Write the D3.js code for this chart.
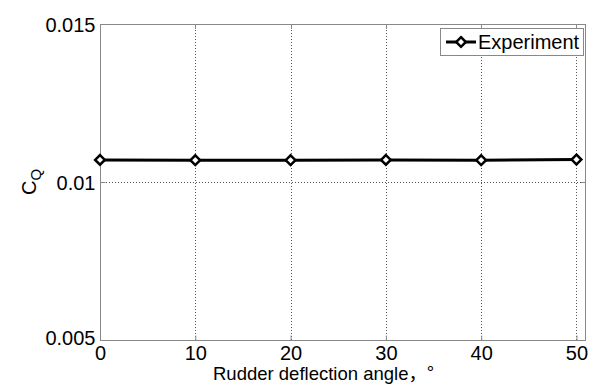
<!DOCTYPE html>
<html>
<head>
<meta charset="utf-8">
<script src="https://cdn.jsdelivr.net/npm/d3@7"></script>
<style>
  html, body { margin: 0; padding: 0; background: #fff; }
  svg text { font-family: Arial, "Liberation Sans", sans-serif; fill: #000; }
</style>
</head>
<body>
<svg id="chart" width="598" height="386"></svg>
<script>
// Rudder deflection angle (deg) and measured thrust-torque coefficient
const angles = [0, 10, 20, 30, 40, 50];
const experiment = [0.01070, 0.01069, 0.01069, 0.01070, 0.01069, 0.01071];
const xTicks = [0, 10, 20, 30, 40, 50];
const yTicks = [0.005, 0.01, 0.015];
const yTickLabels = ["0.005", "0.01", "0.015"];
const seriesName = "Experiment";

const svg = d3.select("#chart");
const plotL = 100, plotR = 586, plotT = 24, plotB = 340;
const fontPx = "20px";

const x = d3.scaleLinear().domain([0, 51]).range([plotL, plotR]);
const y = d3.scaleLinear().domain([0.005, 0.015]).range([plotB, plotT]);

// white plot area
svg.append("rect").attr("x", plotL).attr("y", plotT)
  .attr("width", plotR - plotL).attr("height", plotB - plotT).attr("fill", "#fff");

// dotted grid
const grid = svg.append("g").attr("stroke", "#555").attr("stroke-width", 1)
  .attr("stroke-dasharray", "1,2");
grid.selectAll("line.gx").data(xTicks.filter(d => d > 0)).join("line")
  .attr("x1", d => Math.round(x(d)) + 0.5).attr("x2", d => Math.round(x(d)) + 0.5)
  .attr("y1", plotT).attr("y2", plotB);
grid.selectAll("line.gy").data([0.01]).join("line")
  .attr("x1", plotL).attr("x2", plotR)
  .attr("y1", d => Math.round(y(d)) + 0.5).attr("y2", d => Math.round(y(d)) + 0.5);

// axes with inward ticks
const xAxis = d3.axisBottom(x).tickValues(xTicks).tickSize(-5).tickPadding(5).tickFormat(d3.format("d"));
const yAxis = d3.axisLeft(y).tickValues(yTicks).tickSize(-5).tickPadding(5)
  .tickFormat((d, i) => yTickLabels[i]);

const gx = svg.append("g").attr("transform", `translate(0,${plotB + 0.5})`).call(xAxis);
const gy = svg.append("g").attr("transform", `translate(${plotL + 0.5},0)`).call(yAxis);
[gx, gy].forEach(g => {
  g.select(".domain").remove();
  g.selectAll(".tick line").attr("stroke", "#888");
  g.selectAll(".tick text").style("font-size", fontPx).attr("fill", "#000");
});
gx.selectAll(".tick text").attr("dy", "0.72em");
gy.selectAll(".tick text").attr("dy", "0.35em");
// keep the lowest y label clear of the first x label
gy.selectAll(".tick text").filter(d => d === yTicks[0]).attr("dy", "0.2em");

// mirrored ticks on top/right edges
svg.append("g").selectAll("line").data(xTicks).join("line")
  .attr("x1", d => Math.round(x(d)) + 0.5).attr("x2", d => Math.round(x(d)) + 0.5)
  .attr("y1", plotT).attr("y2", plotT + 5).attr("stroke", "#888");
svg.append("g").selectAll("line").data(yTicks).join("line")
  .attr("x1", plotR - 5).attr("x2", plotR)
  .attr("y1", d => Math.round(y(d)) + 0.5).attr("y2", d => Math.round(y(d)) + 0.5).attr("stroke", "#888");

// axes box
svg.append("rect").attr("x", plotL + 0.5).attr("y", plotT + 0.5)
  .attr("width", plotR - plotL - 1).attr("height", plotB - plotT)
  .attr("fill", "none").attr("stroke", "#888").attr("stroke-width", 1);

// series line
const pts = angles.map((a, i) => [a, experiment[i]]);
svg.append("path").datum(pts)
  .attr("fill", "none").attr("stroke", "#000").attr("stroke-width", 3)
  .attr("d", d3.line().x(d => x(d[0])).y(d => y(d[1])));

const diamond = d3.symbol().type(d3.symbolDiamond2).size(60);
svg.append("g").selectAll("path").data(pts).join("path")
  .attr("transform", d => `translate(${x(d[0])},${y(d[1])})`)
  .attr("d", diamond)
  .attr("fill", "#fff").attr("stroke", "#000").attr("stroke-width", 2.5);

// legend
const lg = svg.append("g");
lg.append("rect").attr("x", 440.5).attr("y", 28.5).attr("width", 143).attr("height", 27)
  .attr("fill", "#fff").attr("stroke", "#888");
lg.append("line").attr("x1", 446).attr("x2", 476).attr("y1", 42).attr("y2", 42)
  .attr("stroke", "#000").attr("stroke-width", 3);
lg.append("path").attr("transform", "translate(461,42)").attr("d", diamond)
  .attr("fill", "#fff").attr("stroke", "#000").attr("stroke-width", 2.5);
lg.append("text").attr("x", 478).attr("y", 42).attr("dy", "0.35em")
  .style("font-size", fontPx).text(seriesName);

// axis titles: Latin part in Arial, full-width comma and degree sign in a CJK face
const titleY = 380;
const xt = svg.append("text").attr("x", 213).attr("y", titleY)
  .style("font-size", "18.5px").text("Rudder deflection angle");
const titleEnd = 213 + xt.node().getComputedTextLength();
svg.append("text").attr("x", titleEnd).attr("y", titleY)
  .style("font-size", "18.5px").style("font-family", "'Noto Sans CJK SC'")
  .text("，°");

const yl = svg.append("text")
  .attr("transform", `translate(36,${(plotT + plotB) / 2}) rotate(-90)`)
  .attr("text-anchor", "middle").style("font-size", fontPx);
yl.append("tspan").text("C");
yl.append("tspan").attr("dy", 5).style("font-size", "15px").text("Q");
</script>
</body>
</html>
